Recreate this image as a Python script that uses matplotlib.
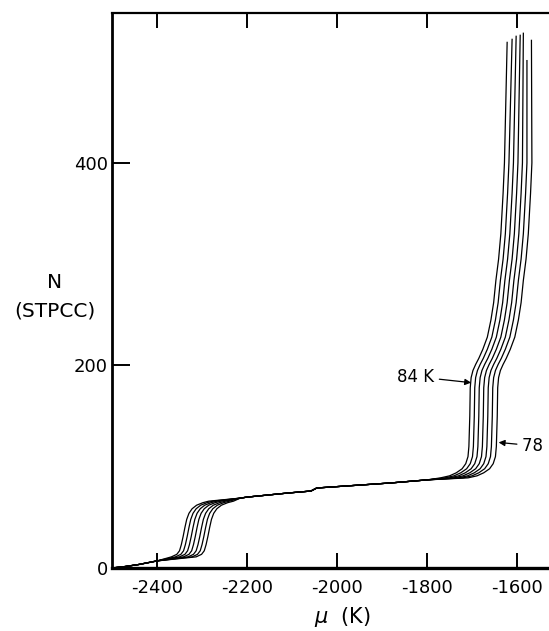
import matplotlib
matplotlib.use("Agg")
import matplotlib.pyplot as plt

plt.rcParams['axes.unicode_minus'] = False
plt.rcParams['font.family'] = ['DejaVu Sans']

# isotherms, 84 K (left) to 78 K (right)
temps = [84, 83, 82, 81, 80, 79, 78]

# shape of the 84 K curve, piece by piece (mu in K, N in STPCC)
tail_mu = [-2500, -2470, -2440, -2400]
tail_n = [0, 1.5, 3.5, 7]
step1_mu = [-2368, -2356, -2350, -2346, -2342, -2338, -2334, -2329, -2322, -2312, -2298, -2285]
step1_n = [11, 13.5, 17, 23, 31, 40, 48, 54, 58.5, 62, 64.5, 66]
plat_mu = [-2215, -2200, -2110, -2058, -2045, -1880, -1800]
plat_n = [69, 70, 74, 76, 79, 84, 87]
step2_mu = [-1770, -1750, -1735, -1722, -1714, -1709, -1707, -1705, -1704,
            -1702, -1698, -1692, -1685, -1676, -1666, -1658, -1652, -1647,
            -1641, -1636, -1631, -1628]
step2_n = [89, 91, 94, 98, 103, 110, 120, 150, 178,
           188, 195, 201, 207, 216, 228, 245, 262, 284,
           305, 330, 370, 400]

# offsets of each isotherm (K)
low_shift = [0, 9, 18, 27, 37, 46, 55]
high_shift = [0, 10, 20, 30, 40, 50, 61]
top_mu = [-1622, -1611, -1602, -1593, -1586, -1578, -1568]
top_n = [519, 522, 525, 526, 528, 501, 521]

fig = plt.figure(figsize=(5.49, 6.31), dpi=100)
ax = fig.add_axes([112/549, 63/631, 437/549, 555/631])

for i in range(len(temps)):
    mu = list(tail_mu)
    n = list(tail_n)
    mu += [m + low_shift[i] for m in step1_mu]
    n += step1_n
    mu += plat_mu
    n += plat_n
    mu += [m + high_shift[i] for m in step2_mu]
    n += step2_n
    mu.append(top_mu[i])
    n.append(top_n[i])
    ax.plot(mu, n, color='black', lw=0.9)

ax.set_xlim(-2500, -1529)
ax.set_ylim(0, 548)
ax.set_xticks([-2400, -2200, -2000, -1800, -1600])
ax.set_yticks([0, 200, 400])
ax.tick_params(axis='x', direction='in', length=11, width=1.4, top=True,
               labelsize=13, pad=8)
ax.tick_params(axis='y', direction='in', length=13, width=1.4,
               labelsize=13, pad=3)
ax.spines['right'].set_visible(False)
ax.spines['left'].set_linewidth(2.0)
ax.spines['bottom'].set_linewidth(2.4)
ax.spines['top'].set_linewidth(1.6)

ax.annotate("84 K", xy=(-1702, 183), xytext=(-1785, 189), ha='right', va='center',
            fontsize=12,
            arrowprops=dict(arrowstyle='-|>', color='black', lw=0.9,
                            mutation_scale=9, shrinkA=2, shrinkB=0))
ax.annotate("78 K", xy=(-1641, 124), xytext=(-1588, 120), ha='left', va='center',
            fontsize=12, annotation_clip=False,
            arrowprops=dict(arrowstyle='-|>', color='black', lw=0.9,
                            mutation_scale=9, shrinkA=2, shrinkB=0))

fig.text(55/549, 1 - 283/631, "N", ha='center', va='center', fontsize=14.5)
fig.text(55/549, 1 - 311/631, "(STPCC)", ha='center', va='center', fontsize=14.5)
fig.text(343/549, 1 - 617/631, r"$\mu$  (K)", ha='center', va='center', fontsize=15)

fig.savefig("out.png", dpi=100)
